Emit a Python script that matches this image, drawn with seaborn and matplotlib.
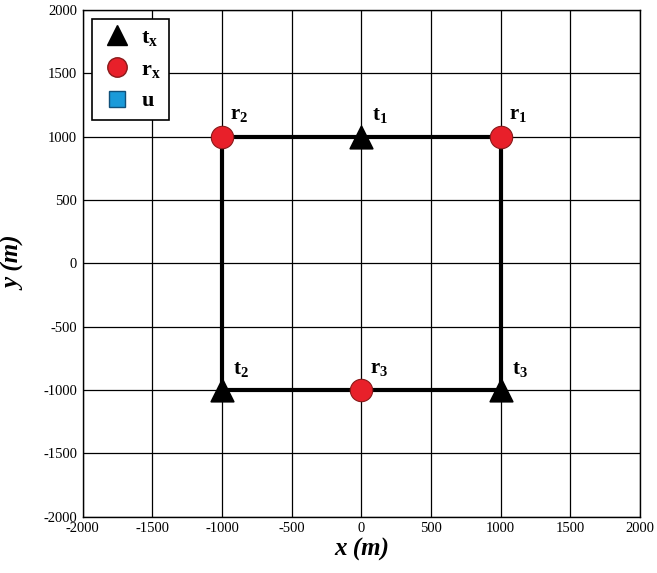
import matplotlib
matplotlib.use("Agg")
import matplotlib.pyplot as plt
import seaborn as sns
import pandas as pd
from matplotlib.lines import Line2D

# Data
tx_names = ["1", "2", "3"]
tx_x = [0, -1000, 1000]
tx_y = [1000, -1000, -1000]
rx_names = ["1", "2", "3"]
rx_x = [1000, -1000, 0]
rx_y = [1000, 1000, -1000]
path_x = [-1000, 1000, 1000, -1000, -1000]
path_y = [1000, 1000, -1000, -1000, 1000]
ticks = [-2000, -1500, -1000, -500, 0, 500, 1000, 1500, 2000]

sns.set_style("white")
plt.rcParams["font.family"] = ["Liberation Serif", "DejaVu Serif"]
plt.rcParams["axes.unicode_minus"] = False
plt.rcParams["mathtext.fontset"] = "custom"
plt.rcParams["mathtext.rm"] = "Liberation Serif:bold"
plt.rcParams["mathtext.bf"] = "Liberation Serif:bold"
plt.rcParams["mathtext.it"] = "Liberation Serif:bold:italic"

fig = plt.figure(figsize=(6.57, 5.73), dpi=100)
ax = fig.add_axes([0.126, 0.098, 0.848, 0.885])

ax.set_xlim(-2000, 2000)
ax.set_ylim(-2000, 2000)
ax.set_xticks(ticks)
ax.set_yticks(ticks)
ax.grid(True, color="black", linewidth=0.9)
ax.set_axisbelow(True)
for s in ax.spines.values():
    s.set_color("black")
    s.set_linewidth(1.0)

path_df = pd.DataFrame({"x": path_x, "y": path_y})
sns.lineplot(data=path_df, x="x", y="y", sort=False, estimator=None,
             color="black", linewidth=3, ax=ax, zorder=3)

tx_df = pd.DataFrame({"x": tx_x, "y": tx_y})
rx_df = pd.DataFrame({"x": rx_x, "y": rx_y})
sns.scatterplot(data=tx_df, x="x", y="y", marker="^", s=260, color="black",
                edgecolor="black", ax=ax, zorder=4)
sns.scatterplot(data=rx_df, x="x", y="y", marker="o", s=260, color="#e8202a",
                edgecolor="#8a1a1a", linewidth=0.8, ax=ax, zorder=4)

for n, x, y in zip(tx_names, tx_x, tx_y):
    ax.annotate(r"$\mathrm{t_{%s}}$" % n, (x, y), xytext=(8, 8),
                textcoords="offset points", fontsize=15, ha="left", va="bottom",
                color="black")
for n, x, y in zip(rx_names, rx_x, rx_y):
    ax.annotate(r"$\mathrm{r_{%s}}$" % n, (x, y), xytext=(6, 9),
                textcoords="offset points", fontsize=15, ha="left", va="bottom",
                color="black")

ax.tick_params(axis="both", labelsize=10.5, length=0, pad=4, colors="black")
ax.set_xlabel("x (m)", fontsize=18, fontweight="bold", fontstyle="italic",
              labelpad=2, color="black")
ax.set_ylabel("y (m)", fontsize=18, fontweight="bold", fontstyle="italic",
              labelpad=12, color="black")

handles = [
    Line2D([], [], marker="^", linestyle="none", color="black", markersize=14),
    Line2D([], [], marker="o", linestyle="none", markerfacecolor="#e8202a",
           markeredgecolor="#8a1a1a", markersize=14),
    Line2D([], [], marker="s", linestyle="none", markerfacecolor="#1a9ad9",
           markeredgecolor="#10507a", markersize=12),
]
labels = [r"$\mathrm{t_x}$", r"$\mathrm{r_x}$", r"$\mathrm{u}$"]
leg = ax.legend(handles, labels, loc="upper left", fontsize=16, frameon=True,
                fancybox=False, edgecolor="black", framealpha=1,
                borderaxespad=0.4, handletextpad=0.3, labelspacing=0.5,
                borderpad=0.4, handlelength=1.5)
leg.get_frame().set_linewidth(1.2)
for t in leg.get_texts():
    t.set_color("black")

fig.savefig("out.png", dpi=100)
